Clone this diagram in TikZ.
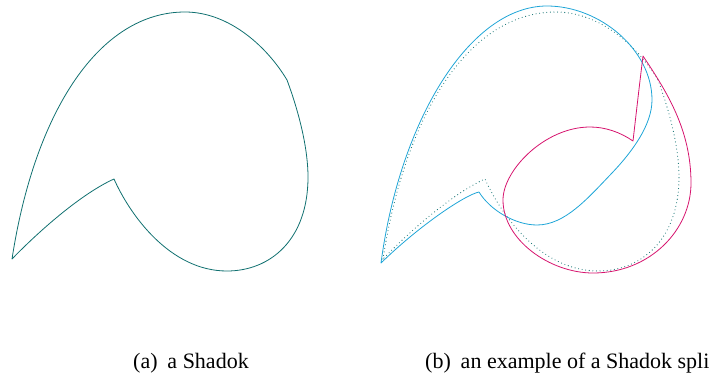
\documentclass[tikz,border=0pt]{standalone}
\usepackage{fontspec}
\setmainfont{Liberation Serif}
\definecolor{shadokteal}{RGB}{16,112,112}
\definecolor{splitcyan}{RGB}{30,165,215}
\definecolor{splitmagenta}{RGB}{214,20,110}
% outline of the Shadok, reused for the dotted copy
\newcommand{\shadokpath}{(12,259) .. controls (35,110) and (100,12) .. (185,12)
  .. controls (230,12) and (268,48) .. (287,80)
  .. controls (300,115) and (308,150) .. (308,177)
  .. controls (308,240) and (270,271) .. (227,271)
  .. controls (170,271) and (130,215) .. (114,179)
  .. controls (85,192) and (45,225) .. cycle}
\begin{document}
\begin{tikzpicture}[x=1pt,y=-1pt]
\tikzstyle{outline}=[line width=0.8pt, line join=round]
\tikzstyle{caption}=[inner sep=0pt, anchor=base west, font=\fontsize{22}{26}\selectfont]
\useasboundingbox (0,0) rectangle (710,378);
% (a) the Shadok
\draw[outline, shadokteal] \shadokpath;
% (b) the split
\draw[outline, shadokteal, line width=1.1pt, line cap=round, dash pattern=on 0pt off 3.6pt, xshift=371] \shadokpath;
\draw[outline, splitcyan] (381,263) .. controls (400,120) and (470,6) .. (547,6)
  .. controls (600,6) and (652,50) .. (652,100)
  .. controls (652,125) and (632,152) .. (612,173)
  .. controls (588,198) and (565,225) .. (537,225)
  .. controls (515,225) and (490,210) .. (479,192)
  .. controls (465,195) and (420,225) .. cycle;
\draw[outline, splitmagenta] (643,56) .. controls (640,80) and (636,115) .. (633,141)
  .. controls (620,132) and (605,127) .. (590,127)
  .. controls (545,127) and (503,170) .. (503,200)
  .. controls (503,240) and (550,273) .. (593,273)
  .. controls (650,273) and (691,230) .. (691,183)
  .. controls (691,130) and (667,92) .. cycle;
\node[caption] (capa) at (133,368) {(a)\hspace{0.45em}a Shadok};
\node[caption] (capb) at (425,368) {(b)\hspace{0.45em}an example of a Shadok spli};
\end{tikzpicture}
\end{document}
